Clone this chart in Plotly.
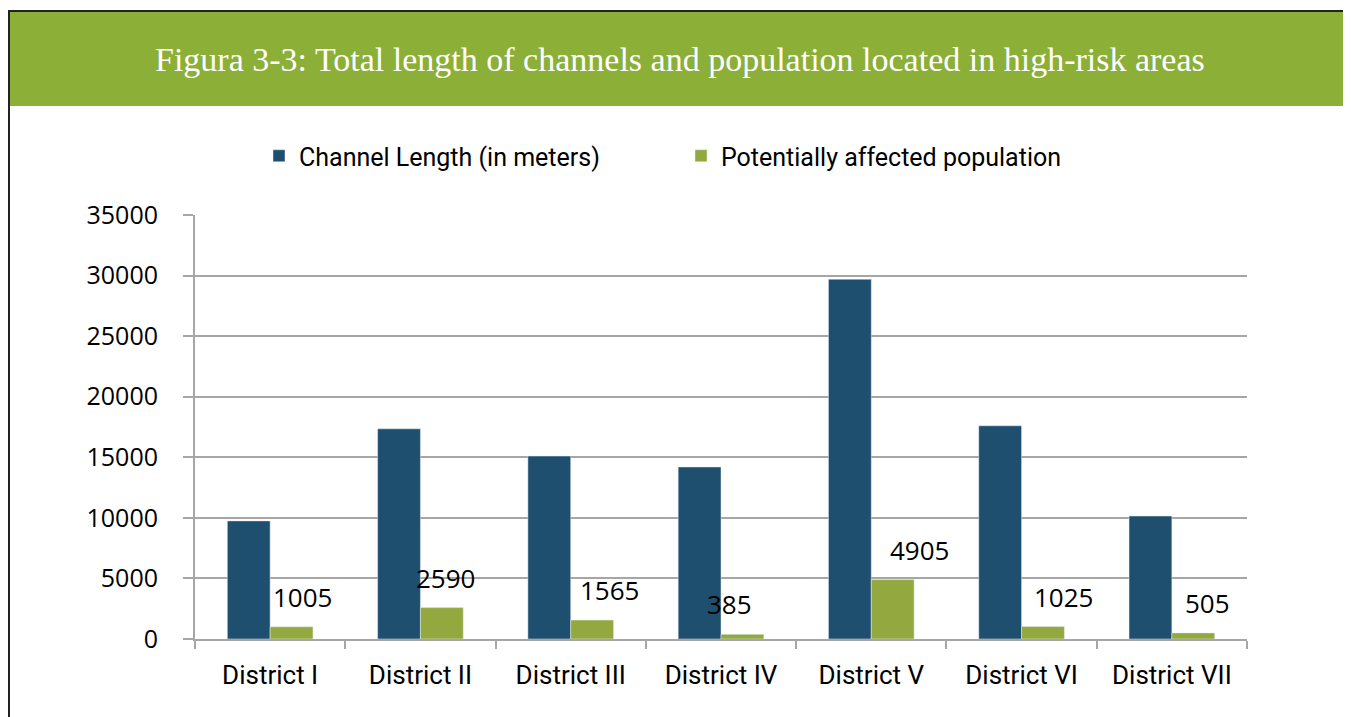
import plotly.graph_objects as go

# Data
districts = ["District I", "District II", "District III", "District IV",
             "District V", "District VI", "District VII"]
channel_length = [9750, 17350, 15100, 14200, 29700, 17600, 10150]
population = [1005, 2590, 1565, 385, 4905, 1025, 505]

# label nudges (px) so the labels sit where the original places them
label_dx = [32, 25, 39, 8, 48, 42, 36]

blue = "#1f4f6e"
green = "#93a83f"
band = "#8baf37"
grid = "#a6a6a6"

# page offset (body margin) and plot area in page pixels
OFF = 8
FW, FH = 1351 - OFF, 717 - OFF
L, R, T, B = 195, 1247, 215, 639
W, H = R - L, B - T
def px(x):
    return (x - L) / W
def py(y):
    return (B - y) / H

fig = go.Figure()
fig.add_trace(go.Bar(x=districts, y=channel_length, name="Channel Length (in meters)",
                     marker_color=blue))
fig.add_trace(go.Bar(x=districts, y=population, name="Potentially affected population",
                     marker_color=green))

for d, v, dx in zip(districts, population, label_dx):
    fig.add_annotation(x=d, y=v, text=str(v), showarrow=False, xshift=dx, yshift=30,
                       font=dict(family="Open Sans", size=26, color="black"))

# green title band and black frame
fig.add_shape(type="rect", xref="paper", yref="paper", x0=px(8), x1=px(1360),
              y0=py(106), y1=py(12), fillcolor=band, line_width=0, layer="below")
fig.add_shape(type="line", xref="paper", yref="paper", x0=px(8), x1=px(1360),
              y0=py(11), y1=py(11), line=dict(color="#222222", width=2))
fig.add_shape(type="line", xref="paper", yref="paper", x0=px(9), x1=px(9),
              y0=py(11), y1=py(720), line=dict(color="#222222", width=2))

fig.add_annotation(xref="paper", yref="paper", x=px(680), y=py(59),
                   xanchor="center", yanchor="middle",
                   text="Figura 3-3: Total length of channels and population located in high-risk areas",
                   showarrow=False, font=dict(family="Liberation Serif", size=34, color="white"))

fig.update_layout(
    width=FW, height=FH,
    margin=dict(l=L - OFF, r=1351 - R, t=T - OFF, b=717 - B),
    paper_bgcolor="white", plot_bgcolor="white",
    barmode="group", bargap=0.43, bargroupgap=0,
    showlegend=True,
    legend=dict(orientation="h", xref="paper", yref="paper", x=px(259), xanchor="left",
                y=py(156), yanchor="middle", font=dict(family="Roboto", size=25, color="black"),
                itemwidth=30, entrywidth=377),
    xaxis=dict(showline=True, linecolor=grid, linewidth=2, ticks="outside",
               tickson="boundaries", ticklen=8, tickcolor=grid, tickwidth=2,
               ticklabelstandoff=12,
               tickfont=dict(family="Roboto", size=26, color="black"), showgrid=False),
    yaxis=dict(range=[0, 35000], dtick=5000, tickformat="d", showgrid=True, gridcolor=grid,
               gridwidth=2, showline=True, linecolor=grid, linewidth=2, ticks="outside",
               ticklen=10, tickcolor=grid, tickwidth=2, zeroline=False, ticklabelstandoff=20,
               tickfont=dict(family="Open Sans", size=25, color="black")),
)

fig.write_html("out.html")
